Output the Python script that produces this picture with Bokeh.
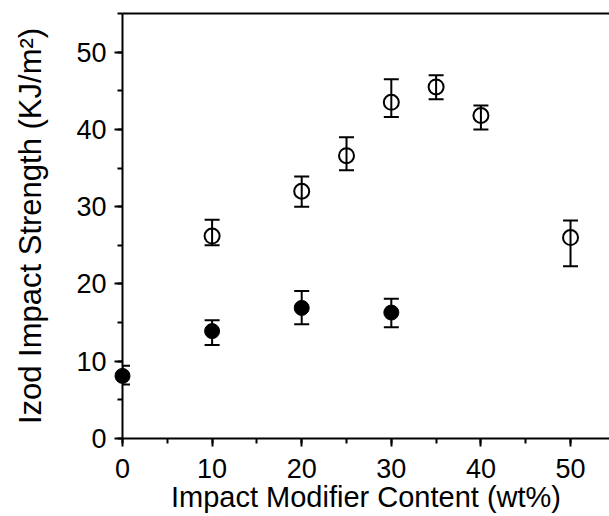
from bokeh.plotting import figure
from bokeh.models import (ColumnDataSource, Range1d, LinearAxis, SingleIntervalTicker,
                          FixedTicker, Whisker, TeeHead)
from bokeh.embed import file_html
from bokeh.resources import INLINE

# Open circles series
open_x = [10, 20, 25, 30, 35, 40, 50]
open_y = [26.2, 32.0, 36.6, 43.5, 45.5, 41.8, 26.0]
open_upper = [28.3, 33.9, 39.0, 46.5, 47.0, 43.1, 28.2]
open_lower = [25.0, 30.0, 34.7, 41.6, 43.9, 40.0, 22.3]

# Filled circles series
filled_x = [0, 10, 20, 30]
filled_y = [8.1, 13.9, 16.9, 16.3]
filled_upper = [9.4, 15.3, 19.1, 18.1]
filled_lower = [7.0, 12.1, 14.8, 14.4]

x_label = "Impact Modifier Content (wt%)"
y_label = "Izod Impact Strength (KJ/m²)"

FONT = "Liberation Sans"

p = figure(width=609, height=516, x_range=Range1d(0, 54.35), y_range=Range1d(0, 55),
           output_backend="svg", toolbar_location=None,
           min_border_left=122, min_border_right=0, min_border_top=13, min_border_bottom=78)
p.outline_line_color = None
p.grid.visible = False
p.background_fill_color = "white"
p.border_fill_color = "white"

for ax in (p.xaxis[0], p.yaxis[0]):
    ax.ticker = SingleIntervalTicker(interval=10, num_minor_ticks=2)
    ax.axis_line_width = 2
    ax.axis_line_color = "black"
    ax.major_tick_line_width = 2
    ax.minor_tick_line_width = 2
    ax.major_tick_in = 0
    ax.minor_tick_in = 0
    ax.major_tick_out = 8
    ax.minor_tick_out = 5
    ax.major_label_text_font = FONT
    ax.major_label_text_font_size = "27px"
    ax.major_label_text_color = "black"
    ax.axis_label_text_font = FONT
    ax.axis_label_text_font_style = "normal"
    ax.axis_label_text_color = "black"

p.xaxis.axis_label = x_label
p.yaxis.axis_label = y_label
p.xaxis.axis_label_text_font_size = "29px"
p.yaxis.axis_label_text_font_size = "31px"
p.xaxis.major_label_standoff = 12
p.xaxis.axis_label_standoff = 0
p.yaxis.major_label_standoff = 8
p.yaxis.axis_label_standoff = 25

top = LinearAxis(ticker=FixedTicker(ticks=[]), major_tick_line_color=None,
                 minor_tick_line_color=None, major_label_standoff=0,
                 axis_line_width=2, axis_line_color="black")
p.add_layout(top, "above")

src_open = ColumnDataSource(dict(x=open_x, y=open_y, upper=open_upper, lower=open_lower))
src_filled = ColumnDataSource(dict(x=filled_x, y=filled_y, upper=filled_upper, lower=filled_lower))

for src in (src_open, src_filled):
    w = Whisker(source=src, base="x", upper="upper", lower="lower",
                line_width=2, line_color="black", level="overlay",
                upper_head=TeeHead(size=15, line_width=2, line_color="black"),
                lower_head=TeeHead(size=15, line_width=2, line_color="black"))
    p.add_layout(w)

r1 = p.scatter("x", "y", source=src_open, size=15, marker="circle",
               fill_color=None, line_color="black", line_width=2)
r2 = p.scatter("x", "y", source=src_filled, size=15, marker="circle",
               fill_color="black", line_color="black", line_width=1)
r1.level = "overlay"
r2.level = "overlay"

open("out.html", "w").write(file_html(p, INLINE))
